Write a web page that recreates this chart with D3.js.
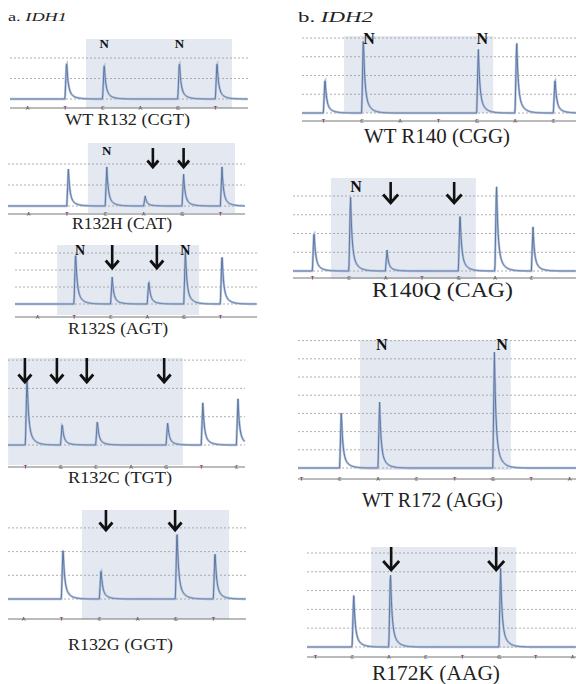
<!DOCTYPE html>
<html><head><meta charset="utf-8">
<script src="https://cdn.jsdelivr.net/npm/d3@7"></script>
<style>body{margin:0;background:#fff}svg{display:block}</style>
</head><body>
<svg id="chart" width="576" height="684"></svg>
<script>
// ---------- DATA ----------
const panelTitles = [{prefix:"a. ", gene:"IDH1"}, {prefix:"b. ", gene:"IDH2"}];
const panelLabels = ["WT R132 (CGT)","R132H (CAT)","R132S (AGT)","R132C (TGT)","R132G (GGT)",
                     "WT R140 (CGG)","R140Q (CAG)","WT R172 (AGG)","R172K (AAG)"];
const dispensations = [
  ["A","T","C","A","G","T"],
  ["A","T","C","A","G","T"],
  ["A","T","C","A","G","T"],
  ["T","G","C","A","G","T","C"],
  ["A","T","C","A","G","T"],
  ["T","C","A","T","G","A","C"],
  ["T","C","A","T","G","A","C"],
  ["T","C","A","C","T","G","T","A"],
  ["T","C","A","C","T","G","T","A"]
];
const peakHeights = [
  [0,1.9,1.8,0,1.9,1.9],
  [0,1.76,1.86,0.48,1.52,1.86],
  [0,3.18,1.59,1.41,3.18,3.06],
  [2.58,0.78,0.88,0,0.81,1.52,1.63],
  [0,2.28,1.31,0,3.04,2.11],
  [1.92,4.16,0,0,3.52,4.0,1.92],
  [2.19,4.16,1.12,0,3.25,4.75,2.35],
  [0,3.19,3.68,0,0,6.48,0,0],
  [0,2.87,4.2,0,0,4.26,0,0]
];
const gridLevels = [[0,1,2],[0,1,2],[0,1,2,3],[0,1,2,3],[0,1,2,3],[0,1,2,3,4],[0,1,2,3,4],[0,1,2,3,4,5,6,7],[0,1,2,3,4,5]];
const normalMarks = [[2,4],[2],[1.12,4.0],[],[],[1.15,4.1],[1.15],[2.06,5.2],[]];
const arrowMarks  = [[],[3.2,4],[2,3.22],[-0.06,0.85,1.7,3.9],[2.13,3.95],[],[2.1,3.84],[],[2.02,4.88]];
const shadeRanges = [[1.57,5.45],[1.56,5.39],[0.55,4.43],[-0.48,4.49],[1.55,5.42],[0.55,4.44],[0.52,4.49],[1.54,5.48],[1.53,5.48]];

// ---------- LAYOUT (positions / sizes) ----------
const layout = [
  {tx:[27,215], base:99,  unit:20.5, axisY:108, gx:[10,248], sy:[39,108],  cap:[65,190,125,17],  nY:48,  nS:13},
  {tx:[28,220], base:206, unit:21,   axisY:214, gx:[8,245],  sy:[143,213], cap:[72,172,229,16.5], nY:155, nS:13, ar:[148,167,11]},
  {tx:[37,220], base:304, unit:17,   axisY:317, gx:[15,257], sy:[245,315], cap:[68,168,334,16.5], nY:255, nS:14, ar:[245,268,13]},
  {tx:[25,236], base:445, unit:28.3, axisY:467, gx:[8,245],  sy:[358,465], cap:[68,172,483,17],  ar:[358,382,13]},
  {tx:[23,213], base:599, unit:23.7, axisY:619, gx:[8,246],  sy:[510,619], cap:[68,173,650,17],  ar:[510,530,13]},
  {tx:[323,553],base:113, unit:18.75,axisY:121, gx:[302,576],sy:[36,113],  cap:[364,510,143,20], nY:44,  nS:16},
  {tx:[312,531],base:271, unit:18.75,axisY:278, gx:[293,576],sy:[178,279], cap:[372,513,297,20], nY:192, nS:16, ar:[182,203,15]},
  {tx:[301,569],base:468, unit:18.2, axisY:479, gx:[298,576],sy:[340,470], cap:[362,503,507,20], nY:350, nS:16},
  {tx:[315,572],base:647, unit:18.8, axisY:657, gx:[307,576],sy:[547,648], cap:[372,500,680,20], ar:[547,570,16]}
];
const titlePos = [{x:8,y:21,size:13.5,w:59},{x:298,y:22,size:15,w:75}];

const svg = d3.select("#chart");
const serif = "'Liberation Serif','DejaVu Serif',serif";

// Titles (horizontally stretched like the reference)
titlePos.forEach((p,i)=>{
  const tg = svg.append("g");
  const t = tg.append("text").attr("x",0).attr("y",0).attr("font-family",serif)
    .attr("font-size",p.size).attr("fill","#222");
  t.append("tspan").text(panelTitles[i].prefix);
  t.append("tspan").attr("font-style","italic").text(panelTitles[i].gene);
  const bw = t.node().getComputedTextLength() || p.w;
  tg.attr("transform",`translate(${p.x},${p.y}) scale(${p.w/bw},1)`);
});

function peakShape(d){
  if (d < -1.6) return 0;
  if (d < 0) return (d+1.6)/1.6;
  return 0.72*Math.exp(-d/1.4) + 0.28*Math.exp(-d/5);
}

layout.forEach((L,i)=>{
  const disp = dispensations[i];
  const n = disp.length;
  const x = d3.scaleLinear().domain([0,n-1]).range(L.tx);
  const y = d3.scaleLinear().domain([0,1]).range([L.base, L.base - L.unit]);
  const g = svg.append("g");

  // shaded region
  g.append("rect").attr("x",x(shadeRanges[i][0])).attr("y",L.sy[0])
    .attr("width",x(shadeRanges[i][1])-x(shadeRanges[i][0])).attr("height",L.sy[1]-L.sy[0])
    .attr("fill","#e3e8f1");

  // dotted gridlines
  g.selectAll("line.grid").data(gridLevels[i]).join("line").attr("class","grid")
    .attr("x1",L.gx[0]).attr("x2",L.gx[1]).attr("y1",d=>y(d)).attr("y2",d=>y(d))
    .attr("stroke","#9a9a9a").attr("stroke-width",0.8).attr("stroke-dasharray","2,2");

  // axis
  const axis = d3.axisBottom(x).tickValues(d3.range(n)).tickSize(3).tickFormat(k=>disp[k]);
  const ag = g.append("g").attr("transform",`translate(0,${L.axisY})`).call(axis);
  ag.select(".domain").attr("d",`M${L.gx[0]},0H${L.gx[1]}`).attr("stroke","#777");
  ag.selectAll(".tick line").attr("stroke","#888").attr("y1",-2).attr("y2",1);
  ag.selectAll(".tick text").attr("y",0).attr("dy","2").attr("font-size",5.5)
    .attr("font-family","'DejaVu Sans',sans-serif")
    .attr("fill",k=>disp[k]==="T"?"#8a2c6e":"#666");

  // trace
  const pts = [];
  for (let px=L.gx[0]; px<=L.gx[1]; px+=0.4){
    let v = 0;
    peakHeights[i].forEach((h,k)=>{ if(h>0) v += h*peakShape(px - (x(k)+2)); });
    pts.push([px, y(v)]);
  }
  const line = d3.line().x(d=>d[0]).y(d=>d[1]);
  g.append("path").attr("d",line(pts)).attr("fill","none").attr("stroke","#b3c3dc").attr("stroke-width",2.4);
  g.append("path").attr("d",line(pts)).attr("fill","none").attr("stroke","#5e76a3").attr("stroke-width",1);

  // N labels
  normalMarks[i].forEach(k=>{
    g.append("text").attr("x",x(k)+2).attr("y",L.nY).attr("text-anchor","middle")
      .attr("font-family",serif).attr("font-weight","bold").attr("font-size",L.nS).attr("fill","#111").text("N");
  });

  // arrows
  arrowMarks[i].forEach(k=>{
    const ax = x(k)+2, [t0,t1,w] = L.ar;
    g.append("line").attr("x1",ax).attr("x2",ax).attr("y1",t0).attr("y2",t1-1.5)
      .attr("stroke","#111").attr("stroke-width",2.6);
    g.append("path").attr("d",`M${ax-w/2},${t1-w/2-1}L${ax},${t1}L${ax+w/2},${t1-w/2-1}`)
      .attr("fill","none").attr("stroke","#111").attr("stroke-width",2.8).attr("stroke-linejoin","miter");
  });

  // caption
  const [c0,c1,cb,cs] = L.cap;
  g.append("text").attr("x",c0).attr("y",cb).attr("font-family",serif).attr("font-size",cs)
    .attr("fill","#222").attr("textLength",c1-c0).attr("lengthAdjust","spacingAndGlyphs").text(panelLabels[i]);
});
</script>
</body></html>
